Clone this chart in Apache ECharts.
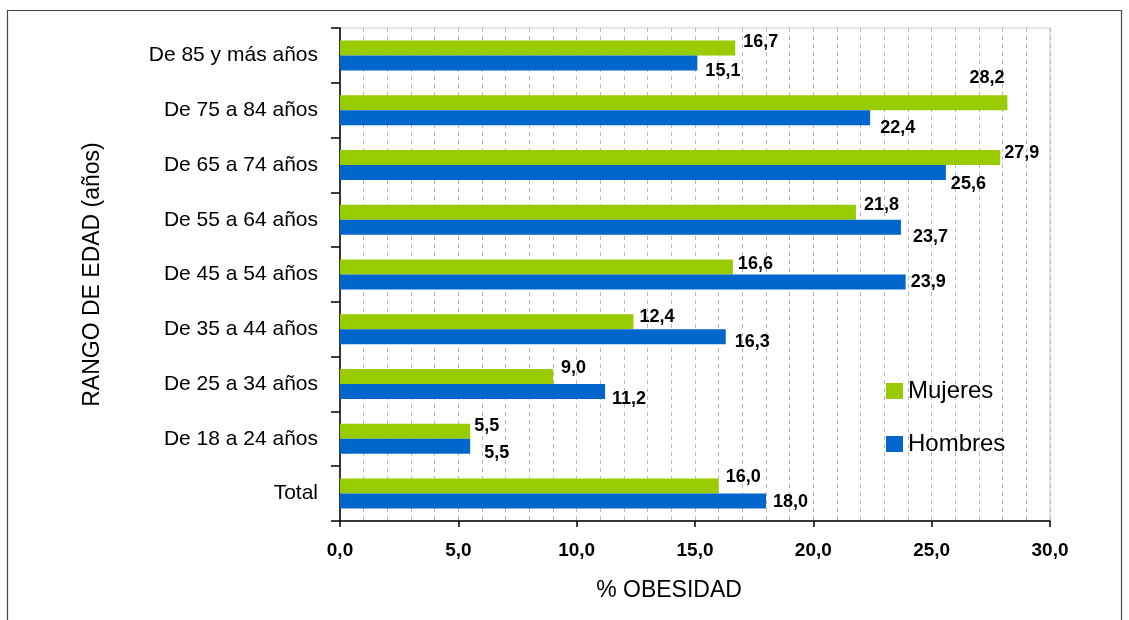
<!DOCTYPE html>
<html>
<head>
<meta charset="utf-8">
<script src="https://cdn.jsdelivr.net/npm/echarts@6/dist/echarts.min.js"></script>
<style>
  html, body { margin: 0; padding: 0; background: #ffffff; }
  #chart { width: 1129px; height: 620px; }
</style>
</head>
<body>
<div id="chart"></div>
<script>
// Age groups, listed top to bottom as drawn
const categories = [
  'De 85 y más años',
  'De 75 a 84 años',
  'De 65 a 74 años',
  'De 55 a 64 años',
  'De 45 a 54 años',
  'De 35 a 44 años',
  'De 25 a 34 años',
  'De 18 a 24 años',
  'Total'
];

// % obesity by sex
const mujeres = [16.7, 28.2, 27.9, 21.8, 16.6, 12.4, 9.0, 5.5, 16.0];
const hombres = [15.1, 22.4, 25.6, 23.7, 23.9, 16.3, 11.2, 5.5, 18.0];

const seriesNames = ['Mujeres', 'Hombres'];
const xTicks = [0, 5, 10, 15, 20, 25, 30];

// Hand placement of each value label, [dx, dy] from the bar end
const nudgeMujeres = [[3, -6], [-43, -25], [-1, -4], [3, -7], [0, -3], [1, -5], [3, -9], [-1, -5], [2, -9]];
const nudgeHombres = [[3, 8], [5, 10], [0, 12], [7, 10], [0, 0], [4, 5], [2, 7], [9, 7], [2, 1]];

const GREEN = '#99cc00';
const BLUE = '#0066cc';
const FONT = '"Liberation Sans", Arial, sans-serif';

const fmt = v => Number(v).toFixed(1).replace('.', ',');

function barData(values, nudges) {
  return values.map((v, i) => ({
    value: v,
    label: { offset: nudges[i] }
  }));
}

const valueLabel = {
  show: true,
  position: 'right',
  distance: 5,
  color: '#000',
  fontFamily: FONT,
  fontWeight: 'bold',
  fontSize: 18,
  formatter: p => fmt(p.value)
};

const chart = echarts.init(document.getElementById('chart'), null, { renderer: 'canvas' });

chart.setOption({
  animation: false,
  backgroundColor: '#ffffff',
  textStyle: { fontFamily: FONT },
  graphic: [{
    type: 'rect',
    silent: true,
    shape: { x: 7.5, y: 10.5, width: 1114, height: 620 },
    style: { fill: 'none', stroke: '#444', lineWidth: 1.2 }
  }],
  grid: {
    left: 340, right: 79, top: 28, bottom: 99,
    show: true,
    borderColor: '#c8c8c8',
    borderWidth: 1,
    backgroundColor: 'transparent'
  },
  legend: {
    data: seriesNames,
    orient: 'vertical',
    left: 881,
    top: 374,
    itemWidth: 17,
    itemHeight: 16,
    itemGap: 29,
    icon: 'rect',
    textStyle: { fontFamily: FONT, fontSize: 24, color: '#000' }
  },
  xAxis: {
    type: 'value',
    min: xTicks[0],
    max: xTicks[xTicks.length - 1],
    interval: 5,
    name: '% OBESIDAD',
    nameLocation: 'middle',
    nameGap: 58,
    nameTextStyle: { fontFamily: FONT, fontSize: 23, color: '#000', padding: [0, 52, 0, 0] },
    axisLine: { show: true, lineStyle: { color: '#000', width: 1.5 } },
    axisTick: { show: true, length: 6, lineStyle: { color: '#000', width: 1.5 } },
    axisLabel: {
      margin: 20,
      fontFamily: FONT,
      fontWeight: 'bold',
      fontSize: 19,
      color: '#000',
      formatter: v => fmt(v)
    },
    splitLine: { show: true, lineStyle: { color: '#b8b8b8', type: [4, 4], width: 1 } },
    minorTick: { show: false, splitNumber: 5 },
    minorSplitLine: { show: true, lineStyle: { color: '#b8b8b8', type: [4, 4], width: 1 } }
  },
  yAxis: {
    type: 'category',
    data: categories,
    inverse: true,
    name: 'RANGO DE EDAD (años)',
    nameLocation: 'middle',
    nameGap: 236,
    nameTextStyle: { fontFamily: FONT, fontSize: 23, color: '#000' },
    axisLine: { show: true, lineStyle: { color: '#000', width: 1.5 } },
    axisTick: { show: true, length: 9, lineStyle: { color: '#000', width: 1.5 } },
    axisLabel: {
      margin: 22,
      fontFamily: FONT,
      fontSize: 21,
      color: '#000'
    },
    splitLine: { show: false }
  },
  series: [
    {
      name: seriesNames[0],
      type: 'bar',
      data: barData(mujeres, nudgeMujeres),
      barWidth: 15,
      barGap: '0%',
      itemStyle: { color: GREEN },
      label: valueLabel
    },
    {
      name: seriesNames[1],
      type: 'bar',
      data: barData(hombres, nudgeHombres),
      barWidth: 15,
      barGap: '0%',
      itemStyle: { color: BLUE },
      label: valueLabel
    }
  ]
});
</script>
</body>
</html>
